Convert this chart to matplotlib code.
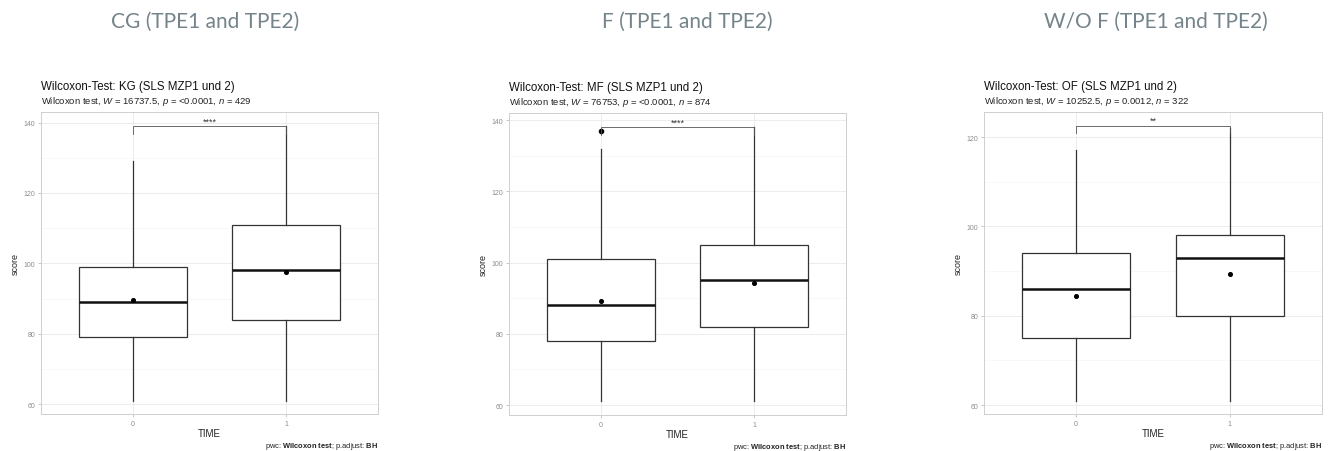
import matplotlib
matplotlib.use("Agg")
import matplotlib.pyplot as plt

plt.rcParams['font.family'] = ['Liberation Sans', 'DejaVu Sans']
plt.rcParams['mathtext.fontset'] = 'custom'
plt.rcParams['mathtext.rm'] = 'Liberation Sans'
plt.rcParams['mathtext.it'] = 'Liberation Sans:italic'
plt.rcParams['mathtext.bf'] = 'Liberation Sans:bold'

# --- data ---
headers = ["CG (TPE1 and TPE2)", "F (TPE1 and TPE2)", "W/O F (TPE1 and TPE2)"]
groups = ["KG", "MF", "OF"]
w_stat = ["16737.5", "76753", "10252.5"]
p_val = ["<0.0001", "<0.0001", "0.0012"]
n_obs = ["429", "874", "322"]
times = ["0", "1"]

q1 = [[79, 84], [78, 82], [75, 80]]
med = [[89, 98], [88, 95], [86, 93]]
q3 = [[99, 111], [101, 105], [94, 98]]
whislo = [[61, 61], [61, 61], [61, 61]]
whishi = [[129, 139], [132, 138], [117, 122]]
means = [[89.5, 97.5], [89.1, 94.2], [84.5, 89.4]]
fliers = [[[], []], [[137], []], [[], []]]

bracket_y = [139, 138, 122.5]
signif = ["****", "****", "**"]
ylims = [(57.2, 143), (57.2, 142), (58, 125.6)]
yticks = [[60, 80, 100, 120, 140], [60, 80, 100, 120, 140], [60, 80, 100, 120]]
yminor = [[70, 90, 110, 130], [70, 90, 110, 130], [70, 90, 110]]

# axes placement in figure pixels (left, top, right, bottom)
W, H = 1329, 452
boxes_px = [(41, 113, 378, 415), (509, 114, 846, 416), (984, 113, 1322, 415)]
header_x = [205, 687, 1156]

fig = plt.figure(figsize=(W / 100, H / 100), dpi=100)
fig.patch.set_facecolor("white")

for i in range(3):
    l, t, r, b = boxes_px[i]
    ax = fig.add_axes([l / W, 1 - b / H, (r - l) / W, (b - t) / H])
    hpx = b - t

    stats = []
    for j in range(2):
        stats.append(dict(q1=q1[i][j], med=med[i][j], q3=q3[i][j],
                          whislo=whislo[i][j], whishi=whishi[i][j],
                          fliers=fliers[i][j], label=times[j]))
    ax.bxp(stats, positions=[0, 1], widths=0.7, showcaps=False,
           patch_artist=True,
           boxprops=dict(facecolor="white", edgecolor="#333333", linewidth=0.9),
           whiskerprops=dict(color="#333333", linewidth=0.9),
           medianprops=dict(color="#111111", linewidth=1.8),
           flierprops=dict(marker="o", markerfacecolor="black",
                           markeredgecolor="black", markersize=3),
           zorder=3)
    ax.scatter([0, 1], means[i], s=7, color="black", zorder=5)

    # significance bracket
    ylo, yhi = ylims[i]
    tip = 0.025 * (yhi - ylo)
    by = bracket_y[i]
    ax.plot([0, 0, 1, 1], [by - tip, by, by, by - tip], color="#555555",
            linewidth=0.6, zorder=4)
    ax.text(0.5, by + 0.2, signif[i], ha="center", va="bottom",
            fontsize=6.5, color="#333333")

    ax.set_xlim(-0.6, 1.6)
    ax.set_ylim(ylo, yhi)
    ax.set_xticks([0, 1])
    ax.set_xticklabels(times)
    ax.set_yticks(yticks[i])
    ax.set_yticks(yminor[i], minor=True)
    ax.grid(True, which="major", color="#ececec", linewidth=0.7, zorder=0)
    ax.grid(True, which="minor", color="#f5f5f5", linewidth=0.5, zorder=0)
    ax.set_axisbelow(True)
    ax.tick_params(which="major", length=2, width=0.5, color="#b3b3b3",
                   labelsize=5, labelcolor="#8c8c8c", pad=2)
    ax.tick_params(which="minor", length=0)
    for s in ax.spines.values():
        s.set_color("#cfcfcf")
        s.set_linewidth(0.7)

    ax.set_xlabel("TIME", fontsize=7, color="#222222", labelpad=1)
    ax.set_ylabel("score", fontsize=6.5, color="#222222", labelpad=3)

    ax.text(0, 1 + 26 / hpx, f"Wilcoxon-Test: {groups[i]} (SLS MZP1 und 2)",
            transform=ax.transAxes, ha="left", va="center",
            fontsize=8.3, color="#111111")
    ax.text(0, 1 + 11 / hpx,
            rf"Wilcoxon test, $\mathit{{W}}$ = {w_stat[i]}, $\mathit{{p}}$ = {p_val[i]}, $\mathit{{n}}$ = {n_obs[i]}",
            transform=ax.transAxes, ha="left", va="center",
            fontsize=6.8, color="#222222")
    ax.text(1, -32 / hpx, r"pwc: $\mathbf{Wilcoxon\ test}$; p.adjust: $\mathbf{BH}$",
            transform=ax.transAxes, ha="right", va="center",
            fontsize=5.4, color="#222222")

    fig.text(header_x[i] / W, 1 - 22 / H, headers[i], ha="center", va="center",
             fontsize=15, color="#74848a", family=["Lato", "DejaVu Sans"])

fig.savefig("out.png", dpi=100, facecolor="white")
